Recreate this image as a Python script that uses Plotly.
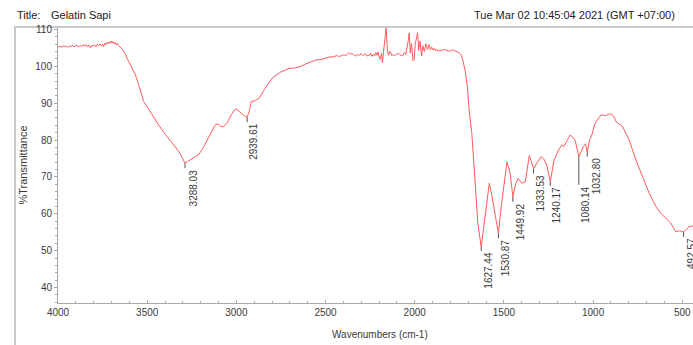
import plotly.graph_objects as go

# ---------------- data ----------------
wavenumbers = [
    4000, 3990, 3980, 3970, 3962, 3955, 3945, 3937, 3928, 3920, 3910, 3902, 3895, 3885,
    3876, 3868, 3860, 3850, 3842, 3835, 3826, 3818, 3810, 3802, 3795, 3787, 3780, 3772,
    3765, 3757, 3750, 3744, 3738, 3732, 3726, 3720, 3714, 3707, 3701, 3695, 3690, 3684,
    3678, 3672, 3666, 3660, 3652, 3645, 3638, 3630, 3622, 3614, 3595, 3580, 3567, 3545,
    3520, 3495, 3473, 3436, 3398, 3360, 3324, 3305,
    3288.03, 3270, 3250, 3232, 3212, 3185, 3156, 3132, 3118, 3102, 3088, 3072, 3052,
    3028, 3006, 2990, 2966, 2950, 2939.61, 2928, 2917, 2900, 2888, 2871, 2840, 2797,
    2750, 2704, 2670, 2648, 2610, 2555, 2520, 2481, 2455, 2440, 2420, 2400, 2385, 2370,
    2360, 2350, 2340, 2332, 2320, 2310, 2300, 2290, 2277, 2268, 2255, 2248, 2240, 2232,
    2225, 2218, 2212, 2206, 2201, 2193, 2186, 2181, 2175, 2168, 2160, 2154,
    2147, 2140, 2135, 2128, 2120, 2113, 2106, 2098, 2085, 2075, 2065, 2057, 2050, 2044,
    2037, 2031, 2025, 2018, 2010, 2003, 1997, 1990, 1984, 1978, 1970, 1962, 1954, 1946,
    1938, 1928, 1919, 1912, 1905, 1897, 1890, 1882, 1875, 1867, 1860, 1852, 1844, 1835,
    1825, 1812, 1800, 1790, 1779, 1770, 1760, 1750, 1741, 1731, 1717, 1705, 1695, 1680,
    1661, 1646,
    1627.44, 1605, 1582, 1568, 1553, 1530.87, 1515, 1502, 1483, 1465, 1449.92, 1435,
    1421, 1399, 1380, 1358, 1333.53, 1292, 1275, 1260, 1240.17, 1219, 1194, 1175, 1165,
    1128, 1101, 1080.14, 1055, 1042, 1032.80, 1020, 1007, 989, 956, 930, 915, 900, 885,
    871, 834, 798, 760, 723, 685, 647, 620, 592, 565, 536, 515, 492.57, 475, 462, 451, 440,
]
transmittance = [
    105.2, 105.4, 105.2, 105.5, 105.3, 105.6, 105.1, 105.5, 105.4, 105.7, 105.3, 105.6, 105.8, 105.2,
    105.7, 105.4, 105.8, 105.5, 105.9, 105.3, 105.8, 105.0, 105.7, 105.5, 105.9, 105.3, 106.0, 105.6,
    106.1, 105.5, 106.0, 105.3, 106.3, 105.9, 106.5, 106.1, 106.6, 106.2, 106.9, 106.3, 106.7, 106.0,
    106.5, 105.8, 106.2, 105.6, 105.3, 104.9, 104.5, 104.0, 103.4, 102.3, 100.6, 99.3, 97.8, 94.6,
    90.5, 88.6, 86.9, 84.1, 81.5, 79.3, 77.0, 75.3,
    73.8, 74.3, 74.9, 75.4, 76.0, 78.0, 80.6, 83.0, 84.2, 84.4, 83.7, 83.6, 84.7,
    86.9, 88.4, 88.1, 86.9, 86.4, 86.2, 87.8, 90.4, 90.6, 90.9, 91.4, 94.0, 96.9,
    98.5, 99.4, 99.6, 99.8, 100.7, 101.7, 101.9, 102.5, 102.6, 102.9, 102.7, 103.1, 103.0, 103.7,
    103.3, 103.5, 103.0, 102.8, 103.2, 103.0, 103.4, 102.9, 103.5, 102.8, 103.0, 103.6, 102.7, 103.3,
    102.8, 103.7, 103.0, 103.9, 102.8, 101.9, 103.5, 101.0, 104.0, 106.5, 110.4, 104.8,
    103.0, 104.1, 103.5, 102.9, 103.3, 102.8, 103.2, 103.5, 103.2, 102.9, 103.0, 103.8, 103.2, 104.6,
    106.8, 109.1, 103.6, 106.2, 101.5, 101.9, 106.3, 107.6, 109.1, 104.3, 106.9, 102.8, 105.6, 104.0,
    106.1, 104.6, 105.9, 104.5, 105.2, 104.4, 104.9, 104.2, 104.6, 104.1, 104.5, 104.2, 104.3, 104.6,
    104.4, 104.1, 104.2, 104.5, 104.3, 104.0, 103.9, 103.6, 103.2, 101.8, 98.7, 94.5, 88.0, 81.8,
    66.4, 57.4,
    51.0, 59.2, 68.3, 65.0, 61.0, 54.7, 62.0, 66.4, 74.1, 71.0, 64.6, 68.0,
    69.6, 68.3, 68.7, 75.8, 72.3, 75.5, 74.8, 73.2, 68.7, 74.6, 77.3, 78.7, 78.2,
    81.4, 80.0, 75.5, 78.2, 79.0, 76.6, 80.0, 81.4, 84.6, 86.8, 86.6, 87.0, 87.1, 86.5,
    85.0, 83.6, 80.0, 74.6, 70.1, 65.5, 61.9, 60.1, 58.8, 57.5, 55.1, 55.4, 55.1, 55.8, 56.6, 56.5, 56.8,
]

peak_wn = [3288.03, 2939.61, 1627.44, 1530.87, 1449.92, 1333.53, 1240.17, 1080.14, 1032.80, 492.57]
peak_t = [73.8, 86.2, 51.0, 54.7, 64.6, 72.3, 68.7, 75.5, 76.6, 55.1]
peak_drop_px = [5, 5, 4, 5, 5, 5, 4, 28, 4, 5]
peak_label_dx = [8, 7, 7, 7, 7, 7, 6, 6, 9, 8]

y_ticks = [40, 50, 60, 70, 80, 90, 100, 110]
x_ticks = [4000, 3500, 3000, 2500, 2000, 1500, 1000, 500]

title_left = "Title:"
title_name = "Gelatin Sapi"
title_date = "Tue Mar 02 10:45:04 2021 (GMT +07:00)"
x_title = "Wavenumbers (cm-1)"
y_title = "%Transmittance"

# ---------------- layout geometry ----------------
W, H = 693, 345
ML, MR, MT, MB = 58, 0, 28, 42
PW, PH = W - ML - MR, H - MT - MB
X_RANGE = [4000, 440]
Y_RANGE = [35.8, 110.4]
PX_PER_T = PH / (Y_RANGE[1] - Y_RANGE[0])


def px_x(px):
    return (px - ML) / PW


def px_y(py):
    return 1 - (py - MT) / PH


FONT = "Liberation Sans, Arial, sans-serif"
AXIS_COL = "#a8a8a8"
TEXT_COL = "#3a3a3a"

fig = go.Figure()
fig.add_trace(go.Scatter(
    x=wavenumbers, y=transmittance, mode="lines",
    line=dict(color="#ff5a5a", width=1),
    hoverinfo="skip", showlegend=False,
))

# peak markers + labels
for wn, t, drop, dx in zip(peak_wn, peak_t, peak_drop_px, peak_label_dx):
    fig.add_shape(type="line", xref="x", yref="y",
                  x0=wn, x1=wn, y0=t, y1=t - drop / PX_PER_T,
                  line=dict(color="#505050", width=1))
    fig.add_annotation(x=wn, y=t, xref="x", yref="y", text=f"{wn:.2f}",
                       showarrow=False, textangle=-90,
                       xanchor="center", yanchor="top",
                       xshift=dx, yshift=-drop + 1,
                       font=dict(family=FONT, size=10, color=TEXT_COL))

# outer frame
fig.add_shape(type="rect", xref="paper", yref="paper",
              x0=px_x(15), x1=px_x(W + 5), y0=px_y(H + 10), y1=px_y(27),
              line=dict(color="#c8c8c8", width=2), layer="below")

# header texts
fig.add_annotation(xref="paper", yref="paper", x=px_x(15), y=px_y(15),
                   text=title_left, showarrow=False, xanchor="left", yanchor="middle",
                   font=dict(family=FONT, size=11, color="#222"))
fig.add_annotation(xref="paper", yref="paper", x=px_x(49), y=px_y(15),
                   text=title_name, showarrow=False, xanchor="left", yanchor="middle",
                   font=dict(family=FONT, size=11, color="#222"))
fig.add_annotation(xref="paper", yref="paper", x=px_x(677), y=px_y(15),
                   text=title_date, showarrow=False, xanchor="right", yanchor="middle",
                   font=dict(family=FONT, size=11, color="#222"))
# axis titles
fig.add_annotation(xref="paper", yref="paper", x=px_x(380), y=px_y(334),
                   text=x_title, showarrow=False, xanchor="center", yanchor="middle",
                   font=dict(family=FONT, size=10, color=TEXT_COL))
fig.add_annotation(xref="paper", yref="paper", x=px_x(22), y=0.5,
                   text=y_title, showarrow=False, textangle=-90,
                   xanchor="center", yanchor="middle",
                   font=dict(family=FONT, size=11, color=TEXT_COL))

fig.update_layout(
    template="none",
    width=W, height=H,
    margin=dict(l=ML, r=MR, t=MT, b=MB, pad=0),
    paper_bgcolor="white", plot_bgcolor="white",
    showlegend=False,
    font=dict(family=FONT, size=10, color=TEXT_COL),
)
fig.update_xaxes(
    range=X_RANGE, tickmode="array", tickvals=x_ticks, ticktext=[str(v) for v in x_ticks],
    showgrid=False, zeroline=False, showline=True, linecolor=AXIS_COL, linewidth=1,
    ticks="inside", ticklen=3, tickcolor=AXIS_COL,
    minor=dict(dtick=100, ticks="inside", ticklen=2, tickcolor=AXIS_COL, showgrid=False),
    tickfont=dict(family=FONT, size=10, color=TEXT_COL), automargin=False,
    mirror=False,
)
fig.update_yaxes(
    range=Y_RANGE, tickmode="array", tickvals=y_ticks, ticktext=[str(v) for v in y_ticks],
    showgrid=False, zeroline=False, showline=True, linecolor=AXIS_COL, linewidth=1,
    ticks="outside", ticklen=3, tickcolor=AXIS_COL,
    minor=dict(dtick=2, tick0=0, ticks="outside", ticklen=2, tickcolor=AXIS_COL, showgrid=False),
    tickfont=dict(family=FONT, size=10, color=TEXT_COL), automargin=False,
)

fig.write_html(
    "out.html",
    config={"displayModeBar": False},
    post_script="document.body.style.margin='0';document.body.style.overflow='hidden';",
)
